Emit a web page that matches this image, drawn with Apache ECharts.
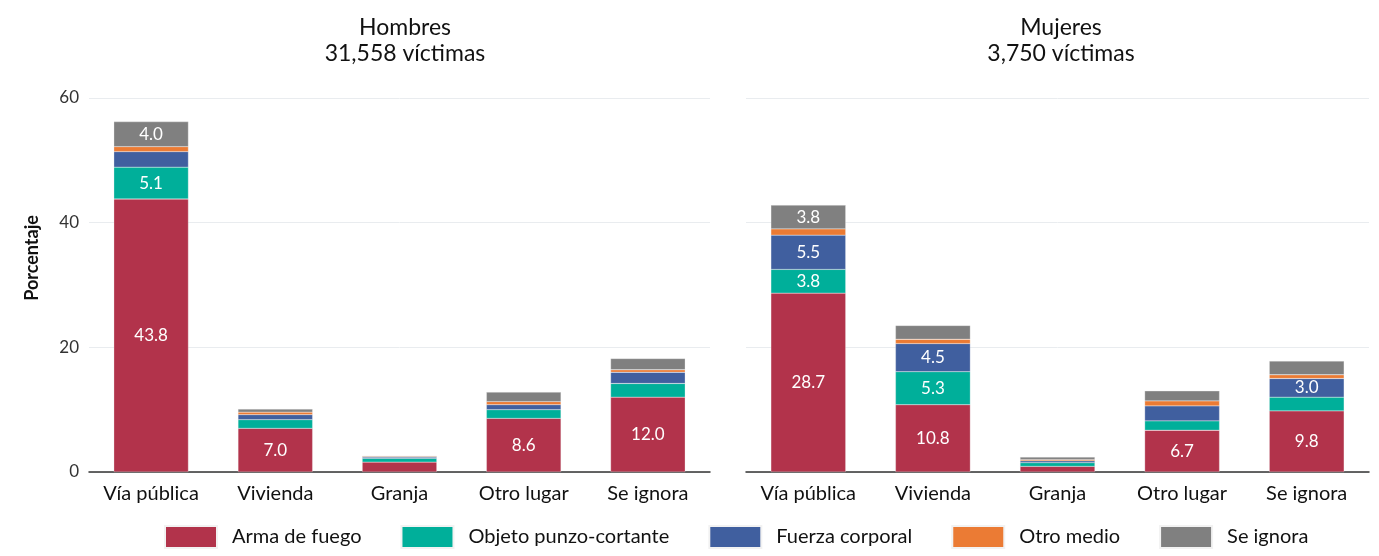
<!DOCTYPE html>
<html lang="es">
<head>
<meta charset="UTF-8">
<title>Víctimas por lugar y medio</title>
<script src="https://cdn.jsdelivr.net/npm/echarts@6/dist/echarts.min.js"></script>
<style>
  html, body { margin: 0; padding: 0; background: #fff; }
  #main { width: 1379px; height: 556px; }
</style>
</head>
<body>
<div id="main"></div>
<script>
var lugares = ['Vía pública', 'Vivienda', 'Granja', 'Otro lugar', 'Se ignora'];
var medios = ['Arma de fuego', 'Objeto punzo-cortante', 'Fuerza corporal', 'Otro medio', 'Se ignora'];
var colores = ['#B2334B', '#00AF9A', '#405F9F', '#EB7B34', '#808080'];

// Hombres (31,558 víctimas)
var hArma    = [43.8, 7.0, 1.6, 8.6, 12.0];
var hObjeto  = [5.1, 1.4, 0.6, 1.4, 2.2];
var hFuerza  = [2.5, 0.8, 0.2, 0.8, 1.8];
var hOtro    = [0.8, 0.4, 0.1, 0.5, 0.4];
var hIgnora  = [4.0, 0.5, 0.1, 1.5, 1.8];

// Mujeres (3,750 víctimas)
var mArma    = [28.7, 10.8, 0.9, 6.7, 9.8];
var mObjeto  = [3.8, 5.3, 0.6, 1.5, 2.2];
var mFuerza  = [5.5, 4.5, 0.3, 2.4, 3.0];
var mOtro    = [1.0, 0.7, 0.2, 0.8, 0.6];
var mIgnora  = [3.8, 2.2, 0.4, 1.6, 2.2];

var hombres = [hArma, hObjeto, hFuerza, hOtro, hIgnora];
var mujeres = [mArma, mObjeto, mFuerza, mOtro, mIgnora];

var fuente = 'Lato, "Noto Sans", sans-serif';

function serie(nombre, datos, panel, color) {
    return {
        name: nombre,
        type: 'bar',
        stack: 'p' + panel,
        xAxisIndex: panel,
        yAxisIndex: panel,
        barWidth: '60%',
        data: datos,
        itemStyle: { color: color, borderColor: '#f2f2f2', borderWidth: 0.3 },
        label: {
            show: true,
            color: '#ffffff',
            fontFamily: fuente,
            fontSize: 17,
            formatter: function (p) { return p.value >= 3 ? p.value.toFixed(1) : ''; }
        }
    };
}

var series = [];
medios.forEach(function (m, i) {
    series.push(serie(m, hombres[i], 0, colores[i]));
});
medios.forEach(function (m, i) {
    series.push(serie(m, mujeres[i], 1, colores[i]));
});

function ejeX(idx) {
    return {
        type: 'category',
        gridIndex: idx,
        data: lugares,
        axisTick: { show: false },
        axisLine: { lineStyle: { color: '#333333', width: 1.5 } },
        axisLabel: { color: '#111111', fontFamily: fuente, fontSize: 20, margin: 12 }
    };
}

function ejeY(idx, etiquetas) {
    return {
        type: 'value',
        gridIndex: idx,
        min: 0,
        max: 60,
        interval: 20,
        name: etiquetas ? 'Porcentaje' : '',
        nameLocation: 'middle',
        nameGap: 48,
        nameTextStyle: { color: '#111111', fontFamily: fuente, fontSize: 18, fontWeight: 'bold', padding: [0, 0, 0, 54] },
        axisLine: { show: false },
        axisTick: { show: false },
        splitLine: { lineStyle: { color: '#e9ecef', width: 1 } },
        axisLabel: { show: etiquetas, color: '#333333', fontFamily: fuente, fontSize: 17, margin: 10 }
    };
}

var chart = echarts.init(document.getElementById('main'));
chart.setOption({
    animation: false,
    textStyle: { fontFamily: fuente },
    title: [
        {
            text: 'Hombres\n31,558 víctimas',
            left: 400, top: 10, textAlign: 'center',
            textStyle: { color: '#111111', fontFamily: fuente, fontSize: 23, fontWeight: 'normal', lineHeight: 26 }
        },
        {
            text: 'Mujeres\n3,750 víctimas',
            left: 1056, top: 10, textAlign: 'center',
            textStyle: { color: '#111111', fontFamily: fuente, fontSize: 23, fontWeight: 'normal', lineHeight: 26 }
        }
    ],
    legend: {
        data: medios,
        left: 159,
        bottom: 2,
        itemWidth: 52,
        itemHeight: 22,
        itemGap: 39,
        icon: 'rect',
        textStyle: { color: '#111111', fontFamily: fuente, fontSize: 20, padding: [0, 0, 0, 10] }
    },
    grid: [
        { left: 89, width: 621, top: 98, height: 374 },
        { left: 746, width: 623, top: 98, height: 374 }
    ],
    xAxis: [ejeX(0), ejeX(1)],
    yAxis: [ejeY(0, true), ejeY(1, false)],
    series: series
});
</script>
</body>
</html>
